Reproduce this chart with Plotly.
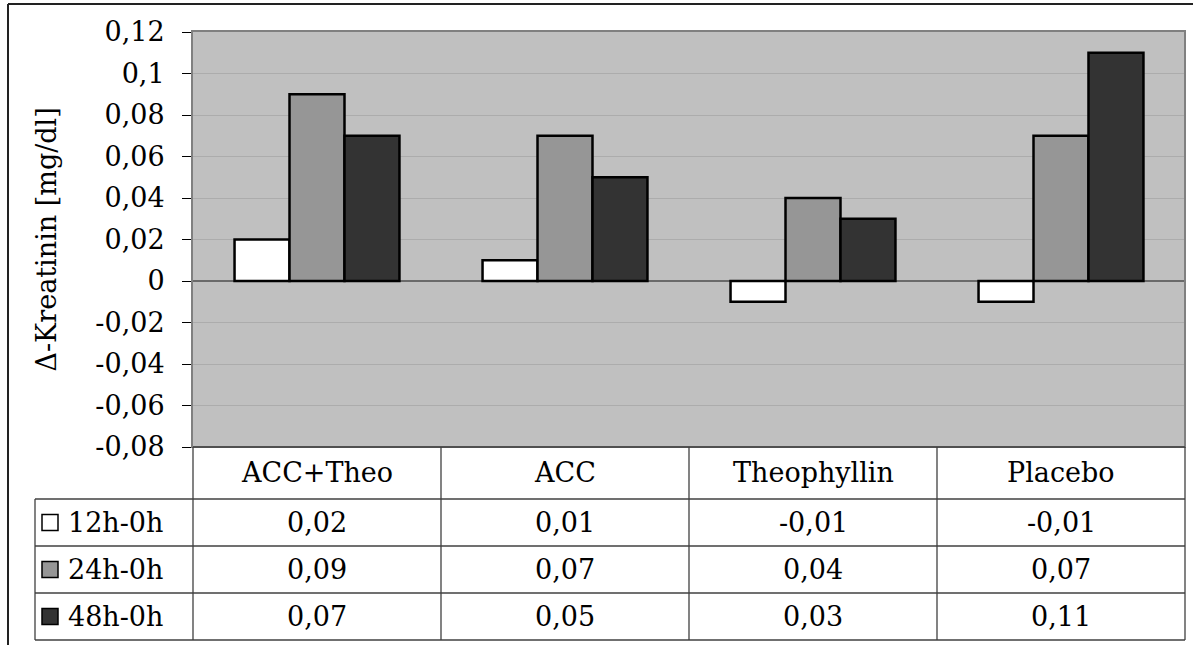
import plotly.graph_objects as go

# Data
groups = ["ACC+Theo", "ACC", "Theophyllin", "Placebo"]
series_names = ["12h-0h", "24h-0h", "48h-0h"]
vals_12h = [0.02, 0.01, -0.01, -0.01]
vals_24h = [0.09, 0.07, 0.04, 0.07]
vals_48h = [0.07, 0.05, 0.03, 0.11]
y_tick_vals = [-0.08, -0.06, -0.04, -0.02, 0, 0.02, 0.04, 0.06, 0.08, 0.1, 0.12]
y_tick_text = ["-0,08", "-0,06", "-0,04", "-0,02", "0", "0,02", "0,04", "0,06", "0,08", "0,1", "0,12"]

series_vals = [vals_12h, vals_24h, vals_48h]
colors = ["#ffffff", "#969696", "#333333"]

W, H = 1203, 645
FONT = "DejaVu Serif"
FS = 27


def px(x):
    return x / W


def py(y):
    return 1 - y / H


# plot area in pixels
PL, PR, PT, PB = 193, 1185, 32, 447
# table rows (pixels)
row_edges = [447, 499, 546, 593, 640]
col_w = (PR - PL) / len(groups)
col_edges = [PL + i * col_w for i in range(len(groups) + 1)]
LEG_L = 35

fig = go.Figure()
for name, vals, col in zip(series_names, series_vals, colors):
    fig.add_trace(go.Bar(
        x=groups, y=vals, name=name,
        marker=dict(color=col, line=dict(color="#000000", width=2.5)),
        showlegend=False,
    ))

shapes = []
annotations = []

# plot-area frame
shapes.append(dict(type="rect", xref="paper", yref="paper",
                   x0=px(PL - 1), x1=px(PR), y0=py(PB), y1=py(PT - 1),
                   line=dict(color="#808080", width=2), layer="above"))

# outer chart border (top and left)
shapes.append(dict(type="line", xref="paper", yref="paper",
                   x0=px(8), x1=px(1193), y0=py(4), y1=py(4),
                   line=dict(color="#222222", width=2)))
shapes.append(dict(type="line", xref="paper", yref="paper",
                   x0=px(8), x1=px(8), y0=py(4), y1=0,
                   line=dict(color="#222222", width=2)))

tline = dict(color="#404040", width=1.3)
# horizontal table lines
shapes.append(dict(type="line", xref="paper", yref="paper",
                   x0=px(PL), x1=px(PR), y0=py(row_edges[0]), y1=py(row_edges[0]), line=tline))
for ry in row_edges[1:]:
    shapes.append(dict(type="line", xref="paper", yref="paper",
                       x0=px(LEG_L), x1=px(PR), y0=py(ry), y1=py(ry), line=tline))
# vertical table lines
for cx in col_edges:
    shapes.append(dict(type="line", xref="paper", yref="paper",
                       x0=px(cx), x1=px(cx), y0=py(row_edges[0]), y1=py(row_edges[-1]), line=tline))
shapes.append(dict(type="line", xref="paper", yref="paper",
                   x0=px(LEG_L), x1=px(LEG_L), y0=py(row_edges[1]), y1=py(row_edges[-1]), line=tline))

# header cells
for i, g in enumerate(groups):
    cx = (col_edges[i] + col_edges[i + 1]) / 2
    annotations.append(dict(xref="paper", yref="paper", x=px(cx),
                            y=py((row_edges[0] + row_edges[1]) / 2),
                            text=g, showarrow=False, xanchor="center", yanchor="middle",
                            font=dict(family=FONT, size=FS, color="#000")))

# series rows: legend key + values
for r, (name, vals, col) in enumerate(zip(series_names, series_vals, colors)):
    top, bot = row_edges[r + 1], row_edges[r + 2]
    mid = (top + bot) / 2
    shapes.append(dict(type="rect", xref="paper", yref="paper",
                       x0=px(42), x1=px(58), y0=py(mid + 8), y1=py(mid - 8),
                       fillcolor=col, line=dict(color="#000", width=1.5)))
    annotations.append(dict(xref="paper", yref="paper", x=px(66), y=py(mid),
                            text=name, showarrow=False, xanchor="left", yanchor="middle",
                            font=dict(family=FONT, size=FS, color="#000")))
    for i, v in enumerate(vals):
        cx = (col_edges[i] + col_edges[i + 1]) / 2
        annotations.append(dict(xref="paper", yref="paper", x=px(cx), y=py(mid),
                                text=f"{v:.2f}".replace(".", ","), showarrow=False,
                                xanchor="center", yanchor="middle",
                                font=dict(family=FONT, size=FS, color="#000")))

# y-axis title
annotations.append(dict(xref="paper", yref="paper", x=px(46), y=py((PT + PB) / 2),
                        text="Δ-Kreatinin [mg/dl]", textangle=-90, showarrow=False,
                        xanchor="center", yanchor="middle",
                        font=dict(family=FONT, size=FS, color="#000")))

fig.update_layout(
    width=W, height=H,
    margin=dict(l=0, r=0, t=0, b=0, pad=0),
    paper_bgcolor="#ffffff",
    plot_bgcolor="#c0c0c0",
    barmode="group",
    bargap=0.335,
    bargroupgap=0,
    shapes=shapes,
    annotations=annotations,
    font=dict(family=FONT, size=FS, color="#000"),
    xaxis=dict(domain=[px(PL), px(PR)], showticklabels=False, ticks="",
               showgrid=False, zeroline=False, showline=False, fixedrange=True,
               automargin=False),
    yaxis=dict(domain=[py(PB), py(PT)], range=[-0.08, 0.12],
               tickvals=y_tick_vals, ticktext=y_tick_text,
               ticks="outside", ticklen=10, tickcolor="#000", tickwidth=1,
               ticklabelstandoff=12,
               showgrid=True, gridcolor="#acacac", gridwidth=1,
               zeroline=True, zerolinecolor="#6a6a6a", zerolinewidth=2,
               showline=False, tickfont=dict(family=FONT, size=FS, color="#000"),
               fixedrange=True, automargin=False),
)

fig.write_html("out.html")
